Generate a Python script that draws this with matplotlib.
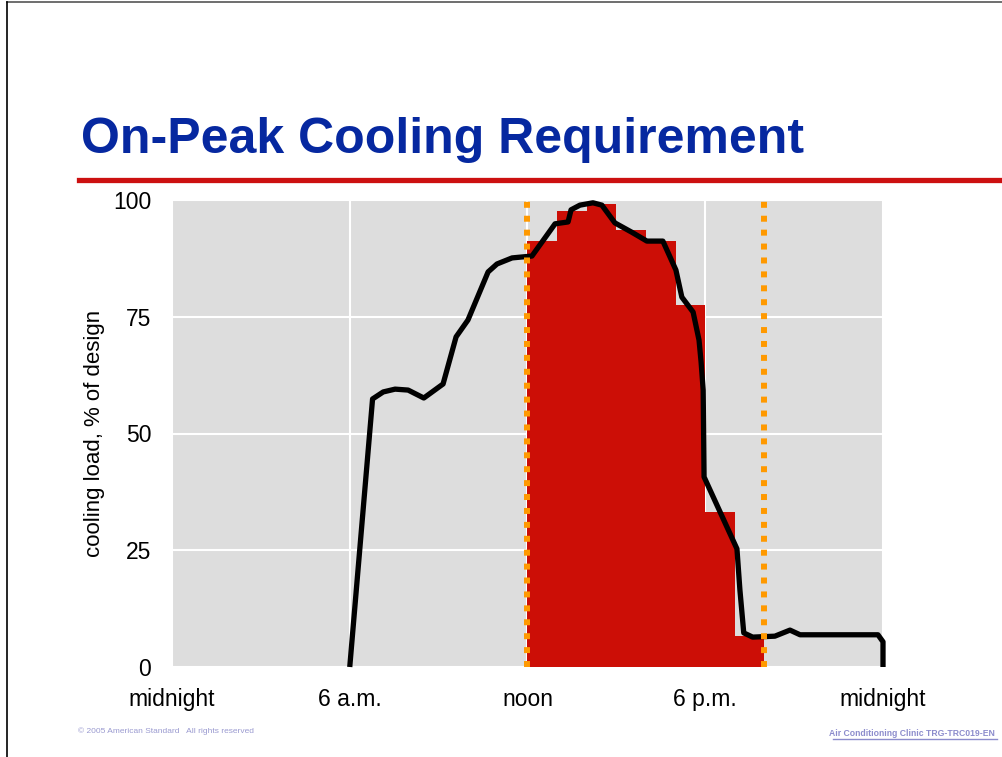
import matplotlib.pyplot as plt
from matplotlib.lines import Line2D

# hourly on-peak cooling load bars (noon to 8 p.m.)
bar_hours = [12, 13, 14, 15, 16, 17, 18, 19]
bar_load = [91.2, 97.6, 99.1, 93.6, 91.2, 77.5, 33.2, 6.6]

# building cooling load profile over the day
line_hours = [6.0, 6.77, 7.13, 7.53, 7.97, 8.5, 9.15, 9.59, 9.99, 10.67, 10.97,
              11.48, 12.15, 12.93, 13.37, 13.47, 13.77, 14.21, 14.51, 14.95, 15.52,
              16.03, 16.57, 17.01, 17.21, 17.59, 17.79, 17.86, 17.93, 17.96, 19.07,
              19.17, 19.3, 19.6, 20.35, 20.86, 21.2, 23.83, 24.0, 24.0]
line_load = [0, 57.4, 58.9, 59.5, 59.3, 57.6, 60.6, 70.7, 74.3, 84.6, 86.3,
             87.6, 88.0, 94.9, 95.3, 97.9, 98.9, 99.4, 98.9, 95.1, 93.1,
             91.2, 91.2, 85.0, 79.2, 76.0, 70.0, 65.3, 59.3, 40.7, 25.3,
             16.5, 7.3, 6.4, 6.6, 7.9, 6.9, 6.9, 5.4, 0]

# on-peak window
peak_bounds = [12, 20]

x_ticks = [0, 6, 12, 18, 24]
x_labels = ['midnight', '6 a.m.', 'noon', '6 p.m.', 'midnight']
y_ticks = [0, 25, 50, 75, 100]

plt.rcParams['font.family'] = ['Liberation Sans', 'DejaVu Sans']

fig = plt.figure(figsize=(10.03, 7.57), dpi=100)
ax = fig.add_axes([172/1003, 1-667/757, (883-172)/1003, (667-200)/757])

ax.set_facecolor('#DDDDDD')
ax.bar(bar_hours, bar_load, width=1.0, align='edge', color='#CC0E06', zorder=2)
ax.plot(line_hours, line_load, color='black', linewidth=3.8,
        solid_joinstyle='round', solid_capstyle='butt', zorder=3, clip_on=False)
for xb in peak_bounds:
    ax.axvline(xb, color='#FF9900', linewidth=4.3, linestyle=(0, (1.0, 1.33)),
               zorder=4)

ax.set_xlim(0, 24)
ax.set_ylim(0, 100)
ax.set_xticks(x_ticks)
ax.set_xticklabels(x_labels)
ax.set_yticks(y_ticks)
ax.tick_params(axis='both', length=0, labelsize=16.5)
ax.tick_params(axis='x', pad=15)
ax.tick_params(axis='y', pad=15)
ax.grid(True, color='white', linewidth=1.5)
ax.set_axisbelow(True)
for s in ax.spines.values():
    s.set_visible(False)
ax.set_ylabel('cooling load, % of design', fontsize=16, labelpad=6)

# title and rule
fig.text(81/1003, 1-153/757, 'On-Peak Cooling Requirement', fontsize=36,
         fontweight='bold', color='#0628A0', ha='left', va='baseline')
fig.add_artist(Line2D([79/1003, 1], [1-179.5/757, 1-179.5/757],
                      color='#CC1010', linewidth=3.8))

# slide border
fig.add_artist(Line2D([7/1003, 1], [1-2/757, 1-2/757], color='#555555', linewidth=1.2))
fig.add_artist(Line2D([7/1003, 7/1003], [0, 1-2/757], color='black', linewidth=1.2))

# footers
fig.text(78/1003, 1-731/757, '\u00a9 2005 American Standard   All rights reserved',
         fontsize=6, color='#9A9AD0', ha='left', va='center')
fig.text(995/1003, 1-733/757, 'Air Conditioning Clinic TRG-TRC019-EN',
         fontsize=6.2, fontweight='bold', color='#8C8CCC', ha='right', va='center')
fig.add_artist(Line2D([833/1003, 997/1003], [1-739/757, 1-739/757],
                      color='#8C8CCC', linewidth=1.0))

plt.savefig('out.png', dpi=100)
print("saved out.png")
